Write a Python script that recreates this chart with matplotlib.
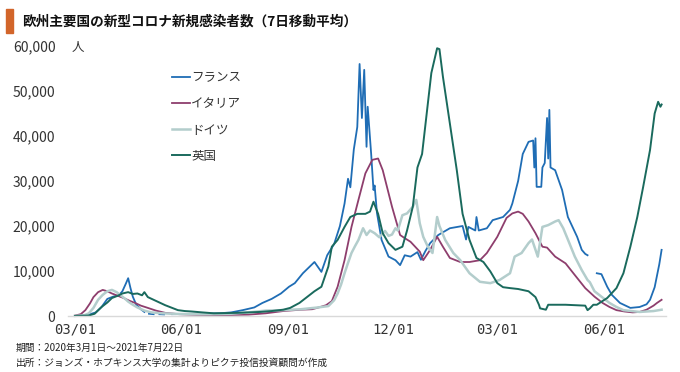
import numpy as np
import pandas as pd
import matplotlib
matplotlib.use("Agg")
import matplotlib.pyplot as plt
import matplotlib.dates as mdates
from matplotlib.patches import Rectangle

plt.rcParams['font.family'] = ['Noto Sans CJK JP', 'DejaVu Sans']

START = pd.Timestamp("2020-03-01")
nan = np.nan

# days counted from 2020-03-01, values = 7-day average of new cases
fr_days = [0, 10, 18, 23, 28, 33, 38, 41, 44, 46, 48, 50, 53, 57, 60, 61, 64, 68, 69, 73, 77,
           78, 84, 95, 105, 115, 125, 135, 145, 155, 162, 170, 178, 185, 190, 197, 203, 207,
           213, 218, 224, 229, 233, 236, 238, 241, 244, 246, 248, 250, 252, 253, 256, 258, 259,
           261, 265, 271, 277, 281, 285, 290, 296, 299, 303, 307, 314, 324, 335, 338, 340, 346,
           347, 349, 356, 361, 370, 376, 378, 383, 387, 392, 396, 397, 398, 399, 403, 404, 406,
           408, 409, 410, 411, 415, 421, 426, 434, 438, 441, 443, 444, 451, 455, 460, 464, 471,
           480, 488, 494, 497, 501, 505, 507]
fr_vals = [20, 150, 800, 2000, 3800, 4300, 4600, 5500, 7200, 8400, 6200, 4300, 2500, 1500, 900, nan,
           500, 400, nan, 400, 350, nan, 400, 450, 500, 550, 600, 800, 1300, 1900, 2900, 3800,
           5000, 6500, 7300, 9500, 11000, 12000, 9800, 13500, 16000, 20000, 25000, 30500, 28600,
           37000, 42000, 56000, 44000, 54700, 37600, 46500, 36000, 28000, 29000, 22900, 16900,
           13200, 12400, 11300, 13500, 13200, 14200, 12500, 14500, 16200, 18000, 19500, 20000,
           17000, 19800, 19000, 22000, 19000, 19500, 21300, 22000, 23600, 25000, 30000, 36000,
           38700, 39000, 33000, 39500, 28700, 28700, 33000, 34000, 44000, 35000, 45800, 33000,
           32400, 28000, 22000, 17600, 14700, 13800, 13500, nan, 9500, 9300, 6500, 4700, 2900,
           1800, 2000, 2600, 3600, 6400, 11500, 14700]

it_days = [0, 5, 9, 13, 16, 20, 24, 28, 32, 37, 42, 47, 52, 57, 63, 70, 78, 90, 105, 120, 135,
           150, 165, 180, 195, 205, 212, 217, 222, 227, 233, 239, 245, 251, 257, 262, 266, 274,
           281, 285, 290, 298, 301, 307, 313, 318, 324, 333, 341, 350, 356, 365, 373, 378, 383,
           387, 392, 398, 404, 408, 415, 424, 432, 441, 449, 456, 462, 468, 475, 482, 488, 494,
           500, 503, 507]
it_vals = [100, 400, 1300, 2800, 4200, 5300, 5800, 5500, 5000, 4500, 4000, 3400, 2900, 2300,
           1800, 1200, 700, 400, 250, 200, 230, 300, 600, 1100, 1400, 1500, 2000, 2400, 3300,
           6500, 12400, 19800, 25800, 31700, 34700, 35000, 32400, 24300, 18000, 17300, 16500,
           14300, 12400, 14700, 17600, 15400, 12900, 12000, 12000, 12400, 14000, 17600, 21800,
           22800, 23200, 22700, 21000, 18400, 15400, 15200, 13200, 11700, 9100, 6200, 4300,
           2900, 2000, 1300, 1000, 800, 900, 1400, 2300, 2900, 3600]

de_days = [0, 8, 12, 16, 20, 24, 28, 32, 36, 39, 43, 46, 50, 54, 60, 66, 75, 90, 105, 120, 135,
           150, 165, 180, 195, 210, 219, 224, 227, 230, 233, 236, 239, 242, 245, 249, 252, 255,
           259, 263, 268, 271, 274, 277, 279, 283, 287, 292, 295, 298, 301, 305, 309, 313, 315,
           320, 327, 333, 341, 350, 359, 367, 376, 380, 386, 392, 395, 400, 404, 409, 415, 418,
           422, 426, 432, 438, 443, 445, 449, 454, 462, 468, 474, 488, 500, 507]
de_vals = [20, 150, 600, 1800, 3600, 4700, 5500, 5800, 5300, 4700, 3900, 3200, 2500, 1900, 1200,
           800, 600, 450, 400, 400, 500, 800, 1200, 1300, 1500, 1900, 2200, 3500, 5000, 7000,
           9500, 11800, 14000, 15500, 16900, 19500, 18000, 19000, 18400, 17500, 18900, 17800,
           18100, 19500, 19000, 22400, 22800, 24300, 25800, 20600, 17600, 15400, 14000, 22000,
           20000, 16900, 14000, 12400, 9500, 7600, 7300, 8000, 9500, 13200, 14000, 16200, 17000,
           13200, 19800, 20200, 21000, 21300, 19500, 17000, 13200, 10200, 8000, 7500, 5500,
           4500, 2900, 2000, 1300, 900, 1100, 1400]

uk_days = [0, 12, 17, 23, 28, 32, 37, 41, 46, 50, 54, 58, 60, 63, 68, 73, 78, 84, 89, 95, 101,
           110, 120, 130, 140, 150, 160, 170, 180, 186, 194, 201, 207, 213, 219, 222, 227, 233,
           238, 244, 251, 255, 258, 262, 266, 271, 277, 283, 287, 292, 296, 300, 304, 308, 313,
           315, 318, 324, 330, 335, 341, 347, 353, 359, 365, 370, 376, 383, 392, 398, 401, 402,
           407, 409, 424, 441, 443, 445, 448, 451, 460, 468, 474, 480, 486, 491, 497, 501, 504,
           506, 507]
uk_vals = [10, 100, 500, 2000, 3000, 4000, 4500, 5000, 5300, 4900, 5000, 4600, 5300, 4200, 3600,
           3000, 2400, 1800, 1300, 1100, 1000, 800, 600, 650, 700, 800, 900, 1100, 1400, 1800,
           2900, 4300, 5500, 6500, 11000, 15400, 16900, 19800, 22000, 22700, 22700, 23200,
           25400, 22700, 18400, 16200, 14700, 15400, 19000, 24300, 33000, 36000, 45000, 54000,
           59500, 59300, 53200, 42800, 32400, 22700, 16900, 12900, 12000, 9900, 7300, 6400,
           6200, 6000, 5500, 4200, 2500, 1700, 1400, 2500, 2500, 2300, 1300, 1700, 2500, 2500,
           4000, 6200, 9500, 15400, 22000, 28600, 36900, 45000, 47600, 46500, 47000]

series = [
    ("フランス", fr_days, fr_vals, "#1f6db5", 1.3),
    ("イタリア", it_days, it_vals, "#8e3e6d", 1.3),
    ("ドイツ", de_days, de_vals, "#b3cdcc", 1.8),
    ("英国", uk_days, uk_vals, "#1a6a5d", 1.4),
]

tick_dates = ["2020-03-01", "2020-06-01", "2020-09-01", "2020-12-01", "2021-03-01", "2021-06-01"]

fig = plt.figure(figsize=(6.8, 3.72), dpi=100)
ax = fig.add_axes([68 / 680, (372 - 316) / 372, (666 - 68) / 680, 270 / 372])

for name, days, vals, color, lw in series:
    dates = START + pd.to_timedelta(days, unit="D")
    ax.plot(dates, vals, color=color, lw=lw, label=name, clip_on=False)

ax.set_xlim(START - pd.Timedelta(days=6), START + pd.Timedelta(days=510.8))
ax.set_ylim(0, 60000)
ax.set_yticks(range(0, 60001, 10000))
ax.yaxis.set_major_formatter(matplotlib.ticker.FuncFormatter(lambda v, p: f"{int(v):,}"))
ax.set_xticks(pd.to_datetime(tick_dates))
ax.xaxis.set_major_formatter(mdates.DateFormatter("%m/%d"))

for s in ["top", "right", "left"]:
    ax.spines[s].set_visible(False)
ax.spines["bottom"].set_color("#d9d9d9")
ax.spines["bottom"].set_linewidth(1.0)
ax.tick_params(axis="both", length=0, colors="#333333")
ax.tick_params(axis="y", pad=9, labelsize=10)
ax.tick_params(axis="x", pad=5)
for lab in ax.get_xticklabels():
    lab.set_family("DejaVu Sans Mono")
    lab.set_fontsize(10)

leg = ax.legend(loc="upper left", bbox_to_anchor=(172 / 680, 0.808), bbox_transform=fig.transFigure,
                frameon=False, fontsize=9, handlelength=1.4, handletextpad=0.15,
                labelspacing=1.05, borderpad=0, borderaxespad=0)
for t in leg.get_texts():
    t.set_color("#333333")

# title with orange bar
fig.patches.append(Rectangle((6 / 680, (372 - 33) / 372), 7 / 680, 24 / 372,
                             transform=fig.transFigure, color="#d2652a"))
fig.text(22 / 680, (372 - 22) / 372, "欧州主要国の新型コロナ新規感染者数（7日移動平均）",
         fontsize=9.8, fontweight="bold", va="center", ha="left", color="#111111")
fig.text(72 / 680, (372 - 47) / 372, "人", fontsize=9, va="center", ha="left", color="#333333")

fig.text(16 / 680, (372 - 348) / 372, "期間：2020年3月1日～2021年7月22日",
         fontsize=7, va="center", ha="left", color="#222222")
fig.text(16 / 680, (372 - 363) / 372, "出所：ジョンズ・ホプキンス大学の集計よりピクテ投信投資顧問が作成",
         fontsize=7, va="center", ha="left", color="#222222")

fig.savefig("out.png", dpi=100)
